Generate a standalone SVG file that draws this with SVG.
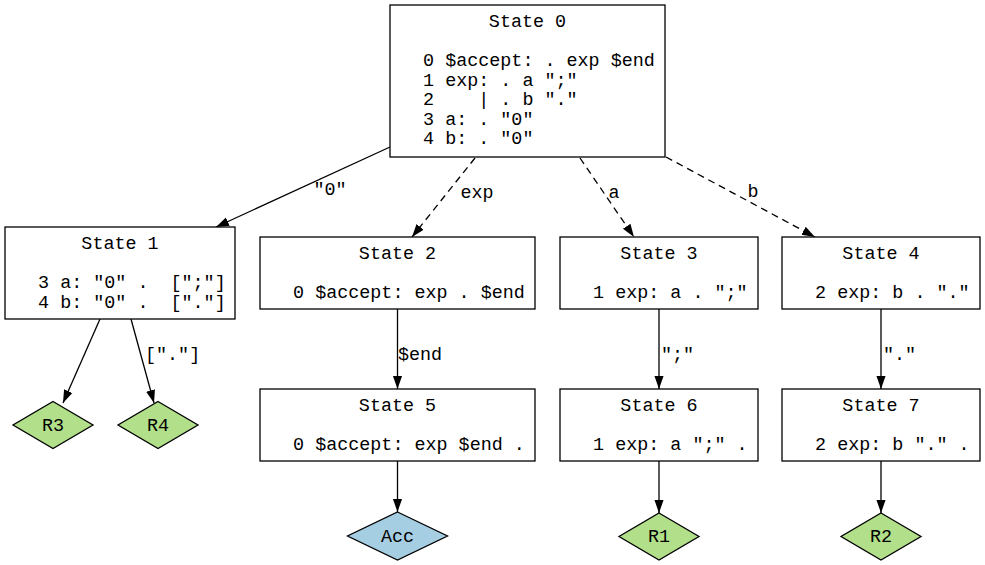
<svg xmlns="http://www.w3.org/2000/svg" width="985" height="565" viewBox="0 0 985 565">
<style>
text{font-family:"Liberation Mono","Courier New",monospace;font-size:18.4px;fill:#000;white-space:pre}
.t{text-anchor:middle}
.box{fill:#fff;stroke:#000;stroke-width:1.3}
.red{fill:#b2df8a;stroke:#000;stroke-width:1.3}
.acc{fill:#a6cee3;stroke:#000;stroke-width:1.3}
.e{fill:none;stroke:#000;stroke-width:1.3}
.d{stroke-dasharray:7,5}
</style>
<defs>
<marker id="ah" viewBox="0 0 10 10" refX="10" refY="5" markerWidth="13" markerHeight="13" markerUnits="userSpaceOnUse" orient="auto">
<path d="M0,1.5 L10,5 L0,8.5 Z" fill="#000"/>
</marker>
</defs>
<rect width="985" height="565" fill="#fff"/>
<g id="connectors">
<path class="e" d="M390,147 L216,227" marker-end="url(#ah)"/>
<text x="330" y="195" class="t">"0"</text>
<path class="e d" d="M475,158 L412,237" marker-end="url(#ah)"/>
<text x="477" y="198" class="t">exp</text>
<path class="e d" d="M580,158 L634,237" marker-end="url(#ah)"/>
<text x="614" y="198" class="t">a</text>
<path class="e d" d="M666,157 L815,237" marker-end="url(#ah)"/>
<text x="753" y="197" class="t">b</text>
<path class="e" d="M100,319 L63,403" marker-end="url(#ah)"/>
<path class="e" d="M131,319 L154,403" marker-end="url(#ah)"/>
<text x="145" y="360">[&quot;.&quot;]</text>
<path class="e" d="M397.5,309 L397.5,389" marker-end="url(#ah)"/>
<text x="398" y="360">$end</text>
<path class="e" d="M659,309 L659,389" marker-end="url(#ah)"/>
<text x="661" y="360">";"</text>
<path class="e" d="M881,309 L881,389" marker-end="url(#ah)"/>
<text x="883" y="360">"."</text>
<path class="e" d="M397.5,461 L397.5,512" marker-end="url(#ah)"/>
<path class="e" d="M659,461 L659,513" marker-end="url(#ah)"/>
<path class="e" d="M881,461 L881,513" marker-end="url(#ah)"/>
</g>
<g id="state0">
<rect class="box" x="390" y="5" width="275" height="152"/>
<text x="527.5" y="27" class="t">State 0</text>
<text x="401" y="66">  0 $accept: . exp $end</text>
<text x="401" y="86">  1 exp: . a ";"</text>
<text x="401" y="105">  2    | . b "."</text>
<text x="401" y="125">  3 a: . "0"</text>
<text x="401" y="144">  4 b: . "0"</text>
</g>
<g id="state1">
<rect class="box" x="5" y="227" width="230" height="92"/>
<text x="120" y="249" class="t">State 1</text>
<text x="16" y="288">  3 a: "0" .  [";"]</text>
<text x="16" y="308">  4 b: "0" .  ["."]</text>
</g>
<g id="state2">
<rect class="box" x="260" y="237" width="275" height="72"/>
<text x="397.5" y="259" class="t">State 2</text>
<text x="271" y="298">  0 $accept: exp . $end</text>
</g>
<g id="state3">
<rect class="box" x="560" y="237" width="198" height="72"/>
<text x="659" y="259" class="t">State 3</text>
<text x="571" y="298">  1 exp: a . ";"</text>
</g>
<g id="state4">
<rect class="box" x="782" y="237" width="198" height="72"/>
<text x="881" y="259" class="t">State 4</text>
<text x="793" y="298">  2 exp: b . "."</text>
</g>
<g id="state5">
<rect class="box" x="260" y="389" width="275" height="72"/>
<text x="397.5" y="411" class="t">State 5</text>
<text x="271" y="450">  0 $accept: exp $end .</text>
</g>
<g id="state6">
<rect class="box" x="560" y="389" width="198" height="72"/>
<text x="659" y="411" class="t">State 6</text>
<text x="571" y="450">  1 exp: a ";" .</text>
</g>
<g id="state7">
<rect class="box" x="782" y="389" width="198" height="72"/>
<text x="881" y="411" class="t">State 7</text>
<text x="793" y="450">  2 exp: b "." .</text>
</g>
<g id="r3">
<polygon class="red" points="53,401.5 93,425 53,448.5 13,425"/>
<text x="53" y="431" class="t">R3</text>
</g>
<g id="r4">
<polygon class="red" points="158,401.5 198,425 158,448.5 118,425"/>
<text x="158" y="431" class="t">R4</text>
</g>
<g id="acc">
<polygon class="acc" points="397.5,512 447.5,536 397.5,560 347.5,536"/>
<text x="397.5" y="542" class="t">Acc</text>
</g>
<g id="r1">
<polygon class="red" points="659,513 699,536.5 659,560 619,536.5"/>
<text x="659" y="542" class="t">R1</text>
</g>
<g id="r2">
<polygon class="red" points="881,513 921,536.5 881,560 841,536.5"/>
<text x="881" y="542" class="t">R2</text>
</g>
</svg>
